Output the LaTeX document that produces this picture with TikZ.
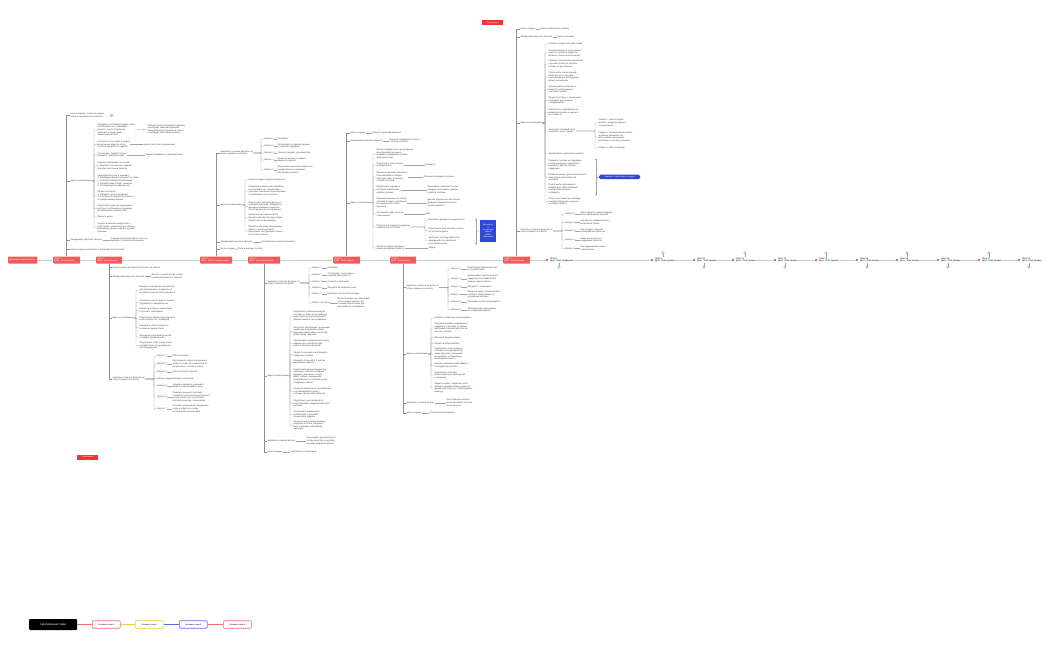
\documentclass[tikz,border=0pt]{standalone}
\usepackage{fontspec}
\setmainfont{Liberation Sans}
\usetikzlibrary{positioning,calc}
\definecolor{nodered}{HTML}{F15B5B}
\definecolor{notered}{HTML}{F3362D}
\definecolor{boxblue}{HTML}{2E46DB}
\definecolor{stemgray}{HTML}{8F8F8F}
\definecolor{brkgray}{HTML}{A3A3A3}
\definecolor{tlgray}{HTML}{CDCDCD}
\definecolor{txtc}{HTML}{404040}
\definecolor{lgyellow}{HTML}{F5C842}
\definecolor{lgblue}{HTML}{5B6EE1}
\definecolor{lgred}{HTML}{F07070}
\newcommand{\fsz}{\fontsize{2.2}{2.6}\selectfont}
\newcommand{\fsm}{\fontsize{2}{2.4}\selectfont}
\newcommand{\fsl}{\fontsize{2.9}{3.4}\selectfont}
\tikzset{
  tx/.style={font=\fsz, text=txtc, inner sep=0.3pt, anchor=west, align=left},
  rnode/.style={fill=nodered, text=white, font=\fsz, inner xsep=1.2pt, inner ysep=0.5pt, anchor=west, align=left, minimum height=7pt, rounded corners=0.6pt, text width=#1},
  wnode/.style={font=\fsz, text=black, inner sep=0.3pt, anchor=west, align=left},
  rdot/.style={fill=nodered, minimum size=1.8pt, inner sep=0pt, rounded corners=0.3pt},
  ico/.style={circle, draw=stemgray, line width=0.3pt, minimum size=2.6pt, inner sep=0pt, fill=white},
  notebox/.style={fill=notered, text=white, font=\fsm, minimum width=21pt, minimum height=5pt, inner sep=0.4pt, anchor=west},
  bluebox/.style={fill=boxblue, text=white, font=\fsm, align=center, inner sep=0.5pt, anchor=west},
  stem/.style={draw=stemgray, line width=0.5pt},
  brk/.style={draw=brkgray, line width=0.35pt, rounded corners=0.7pt},
  tl/.style={draw=tlgray, line width=1pt},
  lgbox/.style={draw=#1, line width=0.6pt, rounded corners=1pt, fill=white, font=\fsm, text=black, minimum width=28pt, minimum height=7.5pt, inner sep=0.3pt, anchor=west},
}
\begin{document}
\begin{tikzpicture}[x=1pt,y=-1pt]
\fill[white] (0,0) rectangle (1050,650);
\useasboundingbox (0,0) rectangle (1050,650);

% ---------------- timeline nodes ----------------
\node[rnode=26.6pt] (c0) at (8,260) {Дорожная карта проекта};
\node[rnode=24.6pt] (n1) at (53,260) {Этап 1\\Дата: Этап Начало};
\node[rnode=23.6pt] (n2) at (96,260) {Этап 2\\Дата: Этап Анализ};
\node[rnode=29.6pt] (n3) at (200,260) {Этап 3\\Дата: Этап Планирование};
\node[rnode=29.6pt] (n4) at (248,260) {Этап 4\\Дата: Этап Разработка};
\node[rnode=24.6pt] (n5) at (333,260) {Этап 5\\Дата: Этап Запуск};
\node[rnode=23.6pt] (n6) at (390,260) {Этап 6\\Дата: Этап Итоги};
\node[rnode=24.6pt] (n7) at (503,260) {Этап 7\\Дата: Этап Анализ};

\foreach \i/\xx/\num/\lbl in {1/547/8/Поддержка, 2/652/9/пример, 3/694/10/пример, 4/733/11/пример, 5/775/12/пример, 6/816/13/пример, 7/857/14/пример, 8/897/15/пример, 9/938/16/пример, 10/979/17/пример, 11/1019/18/пример}{
  \node[rdot] (d\i) at (\xx,260) {};
  \node[wnode] (w\i) at (\xx+2.5,260) {Этап \num\\Дата: Этап \lbl};
}
\draw[tl] (c0) -- (n1);
\draw[tl] (n1) -- (n2);
\draw[tl] (n2) -- (n3);
\draw[tl] (n3) -- (n4);
\draw[tl] (n4) -- (n5);
\draw[tl] (n5) -- (n6);
\draw[tl] (n6) -- (n7);
\draw[tl] (n7) -- (d1);
\foreach \i/\j in {1/2,2/3,3/4,4/5,5/6,6/7,7/8,8/9,9/10,10/11}{
  \draw[tl] (w\i.east) -- (d\j.west);
}
\foreach \i/\xx in {2/663,4/745,6/826,8/907,10/989}{
  \node[ico] (i\i) at (\xx,253) {};
  \draw[brk] (i\i.south) -- (i\i.south |- w\i.north);
}
\foreach \i/\xx in {1/559,3/704,5/785,7/867,9/948,11/1029}{
  \node[ico] (i\i) at (\xx,267) {};
  \draw[brk] (i\i.north) -- (i\i.north |- w\i.south);
}

% ---------------- branch n1 (up) ----------------
\node[tx] (a1) at (70,115.5) {Цели и задачи: основные задачи\\этапа и ожидаемые показатели};
\node[ico] (a1i) at (111.5,115.5) {};
\node[tx] (a2) at (70,181) {Идеи по реализации};
\node[tx] (a21) at (97,130) {Определить ключевые задачи этапа\\и согласовать их с командой\\проекта, учесть пожелания\\заказчика и сроки сдачи\\первых результатов};
\node[tx] (a21r) at (147,129.5) {Рабочая группа обсуждает варианты\\и выбирает наиболее удачный,\\затем фиксирует решение в плане\\и сообщает участникам проекта};
\node[tx] (a22) at (97,144.5) {Составить план работ и график\\выполнения задач по этапу\\с учётом ресурсов (3 недели)};
\node[tx] (a22r) at (143,144.5) {Нужно учесть все ограничения};
\node[tx] (a23) at (97,155) {Согласовать бюджет этапа и\\утвердить смету расходов};
\node[tx] (a23r) at (145,155) {Смета утверждается руководителем};
\node[tx] (a24) at (97,166) {Собрать требования заказчика\\и оформить техническое задание\\для всех участников проекта};
\node[tx] (a25) at (97,181) {Распределить роли в команде:\\1. Менеджер проекта отвечает за сроки\\2. Аналитик собирает требования\\3. Разработчики готовят решение\\4. Тестировщики проверяют его};
\node[tx] (a26) at (97,196) {Провести встречу:\\1. Обсудить цели и ожидания\\2. Согласовать формат отчётности\\и порядок коммуникации};
\node[tx] (a27) at (97,208.5) {Подготовить рабочее окружение и\\доступы к системам для команды\\на период выполнения работ};
\node[tx] (a28) at (97,217) {Оценить риски};
\node[tx] (a29) at (97,228) {Провести анализ конкурентов и\\подготовить сравнительную таблицу\\решений на рынке, выбрать лучшие\\практики};
\node[tx] (a3) at (70,240) {Ожидаемый результат проекта};
\node[tx] (a3r) at (110,240) {Утверждённый план работ и состав\\команды, готовой к выполнению};
\node[tx] (a4) at (70,249.5) {Цели и задачи};
\node[tx] (a4r) at (87,249.5) {Результат и итоговый отчёт по этапу};
\foreach \ch in {a1,a2,a3,a4} \draw[stem] (n1.north) |- (\ch.west);
\foreach \ch in {a21,a22,a23,a24,a25,a26,a27,a28,a29} \draw[brk] (a2.east) -| ([xshift=-3pt]\ch.west) -- (\ch.west);
\foreach \p/\q in {a21/a21r,a22/a22r,a23/a23r,a3/a3r,a4/a4r} \draw[brk] (\p.east) -- (\q.west);

% ---------------- branch n2 (down) ----------------
\node[tx] (b1) at (112,267.5) {Цели и задачи};
\node[tx] (b1r) at (130,267.5) {Результат проекта на этапе 2};
\node[tx] (b2) at (112,276.5) {Ожидаемый результат проекта};
\node[tx] (b2r) at (151,276.5) {Анализ и оценка рынка, выбор\\лучших решений для проекта};
\node[tx] (b3) at (112,318) {Идеи по реализации};
\node[tx] (b31) at (139,290) {Выбрать подходящую технологию\\для реализации и проверить её\\на небольшом прототипе решения};
\node[tx] (b32) at (139,302.5) {Составить список задач и оценить\\трудоёмкость каждой из них};
\node[tx] (b33) at (139,310.5) {Провести встречу с заказчиком\\и уточнить требования};
\node[tx] (b34) at (139,319) {Подготовить архитектуру решения\\и согласовать её с командой};
\node[tx] (b35) at (139,327.5) {Назначить ответственных за\\ключевые задачи этапа};
\node[tx] (b36) at (139,337) {Определить критерии качества\\и порядок приёмки работ};
\node[tx] (b37) at (139,345.5) {Подготовить отчёт о ходе работ\\и представить его руководству\\для утверждения};
\node[tx] (b4) at (112,379) {Наиболее сложные вопросы по\\этапу и варианты ответов};
\node[tx] (b41) at (157,356) {Вопрос 1};
\node[tx] (b41r) at (172,356) {Ответ на вопрос};
\node[tx] (b42) at (157,364) {Вопрос 2};
\node[tx] (b42r) at (172,364) {Использовать открытые данные и\\провести опрос пользователей по\\результатам, а затем уточнить};
\node[tx] (b43) at (157,372) {Вопрос 3};
\node[tx] (b43r) at (172,372) {Ответ на вопрос третий};
\node[tx] (b44) at (157,378.5) {Вопрос 4};
\node[tx] (b44r) at (172,378.5) {Обсудить на встрече};
\node[tx] (b45) at (157,386) {Вопрос 5};
\node[tx] (b45r) at (172,386) {Сравнить варианты решения и\\выбрать подходящий по цене};
\node[tx] (b46) at (157,397) {Вопрос 6};
\node[tx] (b46r) at (172,397) {Привлечь внешнего эксперта\\и провести дополнительный анализ\\рисков, после чего согласовать\\итоговое решение с заказчиком};
\node[tx] (b47) at (157,409) {Вопрос 7};
\node[tx] (b47r) at (172,409) {Отложить решение до следующего\\этапа и вернуться к нему\\после анализа результатов};
\foreach \ch in {b1,b2,b3,b4} \draw[stem] (n2.south) |- (\ch.west);
\foreach \ch in {b31,b32,b33,b34,b35,b36,b37} \draw[brk] (b3.east) -| ([xshift=-3pt]\ch.west) -- (\ch.west);
\foreach \ch in {b41,b42,b43,b44,b45,b46,b47} \draw[brk] (b4.east) -| ([xshift=-3pt]\ch.west) -- (\ch.west);
\foreach \p/\q in {b1/b1r,b2/b2r,b41/b41r,b42/b42r,b43/b43r,b44/b44r,b45/b45r,b46/b46r,b47/b47r} \draw[brk] (\p.east) -- (\q.west);
\node[notebox] (note1) at (77,457.5) {Примечание};

% ---------------- branch n3 (up) ----------------
\node[tx] (c1) at (220,153) {Наиболее сложные вопросы по\\этапу и варианты ответов};
\node[tx] (c11) at (264,139) {Вопрос 1};
\node[tx] (c11r) at (277,139) {Регламент};
\node[tx] (c12) at (264,146) {Вопрос 2};
\node[tx] (c12r) at (277,146) {Согласовать с отделом продаж\\и службой поддержки};
\node[tx] (c13) at (264,153) {Вопрос 3};
\node[tx] (c13r) at (277,153) {Уточнить бюджет у руководства};
\node[tx] (c14) at (264,160) {Вопрос 4};
\node[tx] (c14r) at (277,160) {Провести анализ и собрать\\мнения экспертов};
\node[tx] (c15) at (264,170) {Вопрос 5};
\node[tx] (c15r) at (277,170) {Подготовить несколько вариантов\\и представить их заказчику\\для выбора лучшего};
\node[tx] (c2) at (220,205) {Идеи по реализации};
\node[tx] (c21) at (248,180) {Провести аудит текущих процессов};
\node[tx] (c22) at (248,191) {Разработать макеты интерфейсов\\и согласовать их с заказчиком,\\учитывая пожелания пользователей\\и требования к доступности};
\node[tx] (c23) at (248,206.5) {Подготовить тестовые данные и\\сценарии проверки, определить\\критерии приёмки и назначить\\ответственных за тестирование};
\node[tx] (c24) at (248,218) {Настроить систему контроля\\версий и автоматическую сборку\\проекта для всей команды};
\node[tx] (c25) at (248,231) {Провести обучение сотрудников\\работе с новой системой,\\подготовить инструкции и ответы\\на частые вопросы};
\node[tx] (c3) at (220,242) {Ожидаемый результат проекта};
\node[tx] (c3r) at (261,242) {Готовый план и макеты решения};
\node[tx] (c4) at (220,249) {Цели и задачи};
\node[tx] (c4r) at (237,249) {Итоги и выводы по этапу};
\foreach \ch in {c1,c2,c3,c4} \draw[stem] (n3.north) |- (\ch.west);
\foreach \ch in {c11,c12,c13,c14,c15} \draw[brk] (c1.east) -| ([xshift=-3pt]\ch.west) -- (\ch.west);
\foreach \ch in {c21,c22,c23,c24,c25} \draw[brk] (c2.east) -| ([xshift=-3pt]\ch.west) -- (\ch.west);
\foreach \p/\q in {c11/c11r,c12/c12r,c13/c13r,c14/c14r,c15/c15r,c3/c3r,c4/c4r} \draw[brk] (\p.east) -- (\q.west);

% ---------------- branch n4 (down) ----------------
\node[tx] (d1x) at (267,283) {Наиболее сложные вопросы по\\этапу и варианты ответов};
\node[tx] (d11) at (312,268) {Вопрос 1};
\node[tx] (d11r) at (327,268) {Регламент};
\node[tx] (d12) at (312,275) {Вопрос 2};
\node[tx] (d12r) at (327,275) {Согласовать с юристами и\\службой безопасности};
\node[tx] (d13) at (312,281.5) {Вопрос 3};
\node[tx] (d13r) at (327,281.5) {Уточнить у заказчика};
\node[tx] (d14) at (312,288) {Вопрос 4};
\node[tx] (d14r) at (327,288) {Обсудить на общей встрече};
\node[tx] (d15) at (312,294) {Вопрос 5};
\node[tx] (d15r) at (327,294) {Проверить на тестовом стенде};
\node[tx] (d16) at (312,303) {Вопрос на потом};
\node[tx] (d16r) at (337,303) {Вынести вопрос на следующий\\этап и зафиксировать его\\в общем списке задач для\\дальнейшего обсуждения};
\node[tx] (d2x) at (267,376) {Идеи по реализации};
\node[tx] (d21) at (293,316) {Разработать основные модули\\системы и провести их проверку,\\подготовить документацию для\\разработчиков и тестировщиков};
\node[tx] (d22) at (293,331.5) {Настроить интеграцию с внешними\\сервисами и проверить обмен\\данными между ними в тестовой\\среде перед запуском};
\node[tx] (d23) at (293,343.5) {Организовать ежедневные встречи\\команды для контроля хода\\работ и решения проблем};
\node[tx] (d24) at (293,354.5) {Провести код-ревью и исправить\\найденные ошибки};
\node[tx] (d25) at (293,362) {Обновить план работ с учётом\\выявленных рисков};
\node[tx] (d26) at (293,376) {Подготовить демонстрацию для\\заказчика: показать основные\\функции, рассказать о ходе\\работ, собрать замечания и\\предложения, согласовать сроки\\следующих этапов};
\node[tx] (d27) at (293,391.5) {Провести нагрузочное тестирование\\и оптимизировать работу\\системы при высокой нагрузке};
\node[tx] (d28) at (293,403.5) {Подготовить инструкции для\\пользователей и администраторов\\системы};
\node[tx] (d29) at (293,414.5) {Согласовать изменения в\\требованиях и обновить\\техническое задание};
\node[tx] (d210) at (293,425.5) {Провести внутреннюю приёмку\\результатов этапа, оформить\\акты и передать материалы\\заказчику};
\node[tx] (d3x) at (267,441) {Наиболее сложный вопрос};
\node[tx] (d3r) at (306,441) {Как ускорить разработку без\\потери качества и не выйти\\за рамки бюджета проекта};
\node[tx] (d4x) at (267,452) {Цели и задачи};
\node[tx] (d4r) at (290,452) {Результаты тестирования};
\foreach \ch in {d1x,d2x,d3x,d4x} \draw[stem] (n4.south) |- (\ch.west);
\foreach \ch in {d11,d12,d13,d14,d15,d16} \draw[brk] (d1x.east) -| ([xshift=-3pt]\ch.west) -- (\ch.west);
\foreach \ch in {d21,d22,d23,d24,d25,d26,d27,d28,d29,d210} \draw[brk] (d2x.east) -| ([xshift=-3pt]\ch.west) -- (\ch.west);
\foreach \p/\q in {d11/d11r,d12/d12r,d13/d13r,d14/d14r,d15/d15r,d16/d16r,d3x/d3r,d4x/d4r} \draw[brk] (\p.east) -- (\q.west);

% ---------------- branch n5 (up) ----------------
\node[tx] (e1) at (350,133) {Цели и задачи};
\node[tx] (e1r) at (372,133) {Запуск и проверка решения};
\node[tx] (e2) at (350,141) {Ожидаемый результат проекта};
\node[tx] (e2r) at (389,141) {Решение проверено и готово\\к запуску в работу};
\node[tx] (e3) at (350,203) {Идеи по реализации};
\node[tx] (e31) at (376,154) {Провести финальное тестирование\\всех функций системы и\\исправить найденные ошибки\\перед запуском};
\node[tx] (e32) at (376,165) {Подготовить план запуска\\и график работ};
\node[tx] (e32r) at (425,165) {Результат};
\node[tx] (e33) at (376,177) {Провести обучение ключевых\\пользователей и собрать\\обратную связь по работе\\с новой системой};
\node[tx] (e33r) at (423,177) {Обучение проведено успешно};
\node[tx] (e34) at (376,190) {Подготовить серверы и\\настроить мониторинг\\работы системы};
\node[tx] (e34r) at (427,190) {Мониторинг позволяет быстро\\находить и устранять ошибки\\в работе системы};
\node[tx] (e35) at (376,203) {Перенести данные из старой\\системы в новую и проверить\\их корректность после\\переноса};
\node[tx] (e35r) at (427,203) {Данные перенесены без потерь,\\проверка проведена на всех\\этапах переноса};
\node[tx] (e36) at (376,214) {Согласовать дату запуска\\с заказчиком};
\node[tx] (e36r) at (425,214) {Дата};
\node[tx] (e37) at (376,227) {Подготовить команду поддержки\\к работе после запуска};
\node[tx] (e371) at (428,220) {Назначить дежурных специалистов};
\node[tx] (e372) at (428,230.5) {Подготовить базу знаний и ответы\\на частые вопросы};
\node[tx] (e373) at (428,241) {Настроить систему обработки\\обращений пользователей\\и контроля сроков};
\node[tx] (e38) at (376,248) {Провести запуск системы и\\проконтролировать работу};
\node[tx] (e38r) at (428,248) {Запуск};
\node[bluebox, minimum width=16pt, minimum height=22pt] (bb1) at (480,231) {Выполнить\\и\\согласовать\\задачи\\отчёта\\заказчиком};
\coordinate (s1a) at (476,219);
\coordinate (s1b) at (476,243.5);
\foreach \ch in {e1,e2,e3} \draw[stem] (n5.north) |- (\ch.west);
\foreach \ch in {e31,e32,e33,e34,e35,e36,e37,e38} \draw[brk] (e3.east) -| ([xshift=-3pt]\ch.west) -- (\ch.west);
\foreach \ch in {e371,e372,e373} \draw[brk] (e37.east) -| ([xshift=-3pt]\ch.west) -- (\ch.west);
\foreach \p/\q in {e1/e1r,e2/e2r,e32/e32r,e33/e33r,e34/e34r,e35/e35r,e36/e36r,e38/e38r} \draw[brk] (\p.east) -- (\q.west);
\draw[brk, rounded corners=0pt] ([xshift=-1.5pt]s1a) -- (s1a) -- (s1b) -- ([xshift=-1.5pt]s1b);
\draw[brk] ($(s1a)!0.5!(s1b)$) -- (bb1.west);

% ---------------- branch n6 (down) ----------------
\node[tx] (h1) at (406,287.5) {Наиболее сложные вопросы по\\этапу и варианты ответов};
\node[tx] (h11) at (451,269) {Вопрос 1};
\node[tx] (h11r) at (467,269) {Подготовить резервный план\\на случай сбоев};
\node[tx] (h12) at (451,279) {Вопрос 2};
\node[tx] (h12r) at (467,279) {Организовать круглосуточную\\поддержку пользователей в\\первые недели работы};
\node[tx] (h13) at (451,287) {Вопрос 3};
\node[tx] (h13r) at (467,287) {Обсудить с заказчиком};
\node[tx] (h14) at (451,294.5) {Вопрос 4};
\node[tx] (h14r) at (467,294.5) {Провести опрос пользователей\\и собрать предложения по\\улучшению системы};
\node[tx] (h15) at (451,302) {Вопрос 5};
\node[tx] (h15r) at (467,302) {Проверить отчёты мониторинга};
\node[tx] (h16) at (451,310) {Вопрос 6};
\node[tx] (h16r) at (467,310) {Запланировать обновление\\на следующий квартал};
\node[tx] (h2) at (406,354) {Идеи по реализации};
\node[tx] (h21) at (434,318) {Собрать статистику использования};
\node[tx] (h22) at (434,328) {Проанализировать обращения в\\поддержку и выявить основные\\проблемы пользователей после\\запуска системы};
\node[tx] (h23) at (434,337.5) {Обновить документацию};
\node[tx] (h24) at (434,343.5) {Провести ретроспективу};
\node[tx] (h25) at (434,354) {Подготовить план развития\\системы на следующий год:\\новые функции, улучшения\\интерфейса, оптимизация\\производительности};
\node[tx] (h26) at (434,365.5) {Оценить экономический эффект\\от внедрения системы};
\node[tx] (h27) at (434,375) {Подготовить итоговую\\презентацию для руководства\\и заказчика};
\node[tx] (h28) at (434,388) {Закрыть проект: подписать акты,\\передать документацию, провести\\финальную встречу и поблагодарить\\команду};
\node[tx] (h3) at (406,403) {Наиболее сложный вопрос};
\node[tx] (h3r) at (446,403) {Как сохранить интерес\\пользователей к системе\\после запуска};
\node[tx] (h4) at (406,413) {Цели и задачи};
\node[tx] (h4r) at (429,413) {Итоги проекта и выводы};
\foreach \ch in {h1,h2,h3,h4} \draw[stem] (n6.south) |- (\ch.west);
\foreach \ch in {h11,h12,h13,h14,h15,h16} \draw[brk] (h1.east) -| ([xshift=-3pt]\ch.west) -- (\ch.west);
\foreach \ch in {h21,h22,h23,h24,h25,h26,h27,h28} \draw[brk] (h2.east) -| ([xshift=-3pt]\ch.west) -- (\ch.west);
\foreach \p/\q in {h11/h11r,h12/h12r,h13/h13r,h14/h14r,h15/h15r,h16/h16r,h3/h3r,h4/h4r} \draw[brk] (\p.east) -- (\q.west);

% ---------------- branch n7 (up) ----------------
\node[notebox] (note2) at (482,23) {Примечание};
\node[tx] (k1) at (520,29) {Цели и задачи};
\node[tx] (k1r) at (540,29) {Анализ результатов проекта};
\node[tx] (k2) at (520,37) {Ожидаемый результат проекта};
\node[tx] (k2r) at (557,37) {Отчёт и выводы};
\node[tx] (k3) at (520,123) {Идеи по реализации};
\node[tx] (k31) at (548,44) {Собрать отзывы всех участников};
\node[tx] (k32) at (548,53) {Проанализировать выполнение\\плана по срокам и бюджету,\\выявить основные отклонения};
\node[tx] (k33) at (548,64) {Сравнить полученные результаты\\с целями проекта и оценить\\степень их достижения};
\node[tx] (k34) at (548,77) {Подготовить список уроков,\\извлечённых из проекта,\\и рекомендации для будущих\\проектов компании};
\node[tx] (k35) at (548,89.5) {Оценить работу команды и\\отметить вклад каждого\\участника проекта};
\node[tx] (k36) at (548,100.5) {Провести встречу с заказчиком\\и обсудить дальнейшее\\сотрудничество};
\node[tx] (k37) at (548,112.5) {Подготовить предложения по\\развитию системы и оценить\\их стоимость};
\node[tx] (k38) at (548,131) {Составить итоговый отчёт\\по проекту и его этапам};
\node[tx] (k381) at (598,123) {Раздел 1: цели и задачи\\проекта, исходные данные\\и ограничения};
\node[tx] (k382) at (598,137) {Раздел 2: ход выполнения работ,\\основные решения и их\\обоснование, возникшие\\проблемы и способы решения};
\node[tx] (k383) at (598,148) {Раздел 3: итоги и выводы};
\node[tx] (k39) at (548,154) {Архивировать материалы проекта};
\node[tx] (k310) at (548,165) {Передать систему на поддержку\\и сопровождение, подготовить\\регламент работы службы\\поддержки};
\node[tx] (k311) at (548,177.5) {Провести оценку удовлетворённости\\заказчика и пользователей\\системой};
\node[tx] (k312) at (548,189) {Подготовить публикацию о\\проекте для сайта компании\\и профессиональных\\сообществ};
\node[tx] (k313) at (548,201.5) {Распустить проектную команду\\и перераспределить ресурсы\\на новые проекты};
\node[bluebox, rounded corners=1.5pt, minimum width=41pt, minimum height=4.5pt] (bb2) at (599,177) {Нажмите, чтобы открыть раздел};
\coordinate (s2a) at (596,159.5);
\coordinate (s2b) at (596,194.5);
\node[tx] (k4) at (520,231) {Наиболее сложные вопросы по\\этапу и варианты ответов};
\node[tx] (k41) at (565,214) {Вопрос 1};
\node[tx] (k41r) at (580,214) {Как сохранить знания команды\\после завершения проекта};
\node[tx] (k42) at (565,222.5) {Вопрос 2};
\node[tx] (k42r) at (580,222.5) {Как оценить эффективность\\вложений в проект};
\node[tx] (k43) at (565,231) {Вопрос 3};
\node[tx] (k43r) at (580,231) {Как улучшить процесс\\планирования проектов};
\node[tx] (k44) at (565,240) {Вопрос 4};
\node[tx] (k44r) at (580,240) {Какие риски учесть в\\следующих проектах};
\node[tx] (k45) at (565,248.5) {Вопрос 5};
\node[tx] (k45r) at (580,248.5) {Как поддерживать связь\\с заказчиком};
\foreach \ch in {k1,k2,k3,k4} \draw[stem] (n7.north) |- (\ch.west);
\foreach \ch in {k31,k32,k33,k34,k35,k36,k37,k38,k39,k310,k311,k312,k313} \draw[brk] (k3.east) -| ([xshift=-3pt]\ch.west) -- (\ch.west);
\foreach \ch in {k381,k382,k383} \draw[brk] (k38.east) -| ([xshift=-3pt]\ch.west) -- (\ch.west);
\foreach \ch in {k41,k42,k43,k44,k45} \draw[brk] (k4.east) -| ([xshift=-3pt]\ch.west) -- (\ch.west);
\foreach \p/\q in {k1/k1r,k2/k2r,k41/k41r,k42/k42r,k43/k43r,k44/k44r,k45/k45r} \draw[brk] (\p.east) -- (\q.west);
\draw[brk, rounded corners=0pt] ([xshift=-1.5pt]s2a) -- (s2a) -- (s2b) -- ([xshift=-1.5pt]s2b);
\draw[brk] ($(s2a)!0.5!(s2b)$) -- (bb2.west);

% ---------------- legend ----------------
\node[fill=black, text=white, font=\fsl, minimum width=48pt, minimum height=11pt, rounded corners=1pt, inner sep=0.5pt, anchor=west] (lg0) at (29,624.5) {Центральная тема};
\node[lgbox=lgred] (lg1) at (92,624.5) {Основная тема 1};
\node[lgbox=lgyellow] (lg2) at (135,624.5) {Основная тема 2};
\node[lgbox=lgblue] (lg3) at (179,624.5) {Основная тема 3};
\node[lgbox=lgred] (lg4) at (223,624.5) {Основная тема 4};
\draw[lgred, line width=0.6pt] (lg0) -- (lg1);
\draw[lgyellow, line width=0.6pt] (lg1) -- (lg2);
\draw[lgblue, line width=0.6pt] (lg2) -- (lg3);
\draw[lgred, line width=0.6pt] (lg3) -- (lg4);
\end{tikzpicture}
\end{document}
